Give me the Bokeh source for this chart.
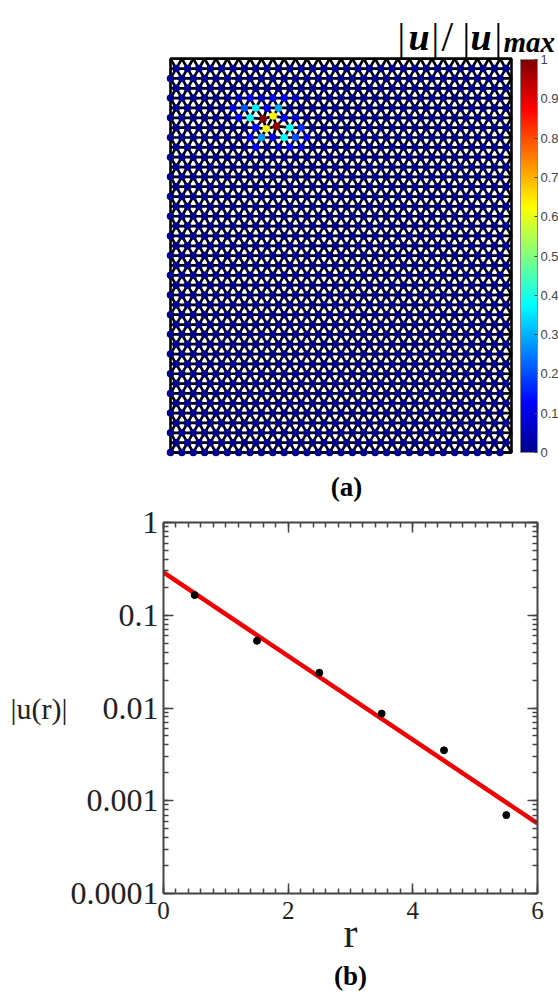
from bokeh.plotting import figure
from bokeh.layouts import column
from bokeh.embed import file_html
from bokeh.resources import INLINE
from bokeh.models import (Range1d, Label, ColorBar, LinearColorMapper, FixedTicker, LinearAxis,
                          LogAxis, LogTicker, BasicTicker, CustomJSTickFormatter, ColumnDataSource, Title)
import numpy as np

# ---------- data ----------
N_COLS = 30
N_ROWS = 40
# excited nodes: column, row (from bottom), |u|/|u|max, shift x, shift y (lattice units)
exc_i = [8, 9, 9, 8, 7, 7, 9, 10, 10, 8, 6, 6, 8, 7, 9, 11, 11, 10, 7, 9, 8, 6, 5, 10, 7, 10, 11, 9, 7, 12, 11, 11]
exc_j = [34, 33, 34, 33, 34, 35, 35, 33, 32, 32, 35, 34, 35, 33, 32, 32, 33, 34, 36, 36, 36, 36, 35, 36, 31, 31, 31, 31, 32, 32, 34, 36]
exc_v = [1.0, 0.98, 0.63, 0.63, 0.37, 0.36, 0.29, 0.38, 0.37, 0.27, 0.21, 0.13, 0.11, 0.13, 0.11, 0.2, 0.17, 0.11, 0.12, 0.11, 0.06, 0.07, 0.1, 0.11, 0.13, 0.13, 0.08, 0.06, 0.13, 0.1, 0.08, 0.07]
exc_dx = [0.15, -0.18, 0.03, -0.08] + [0.0] * 28
exc_dy = [-0.1, 0.13, 0.15, -0.1] + [0.0] * 28
r_vals = [0.5, 1.5, 2.5, 3.5, 4.5, 5.5]
u_vals = [0.165, 0.053, 0.024, 0.0087, 0.0035, 0.0007]
fit_r = [0, 6]
fit_u = [0.29, 0.00057]
cbar_ticks = [0, .1, .2, .3, .4, .5, .6, .7, .8, .9, 1]
jet_stops = [(0, (0, 0, 143)), (.125, (0, 0, 255)), (.375, (0, 255, 255)), (.625, (255, 255, 0)), (.875, (255, 0, 0)), (1, (128, 0, 0))]

# ---------- jet palette ----------
ts = [s[0] for s in jet_stops]
cols = np.array([s[1] for s in jet_stops], float)
grid = np.linspace(0, 1, 256)
palette = ["#%02x%02x%02x" % tuple(int(round(np.interp(t, ts, cols[:, k]))) for k in range(3)) for t in grid]
mapper = LinearColorMapper(palette=palette, low=0, high=1)

# ---------- lattice ----------
H = np.sqrt(3) / 2
shift = {(i, j): (a, b) for i, j, a, b in zip(exc_i, exc_j, exc_dx, exc_dy)}
value_at = {(i, j): v for i, j, v in zip(exc_i, exc_j, exc_v)}
def pos(i, j):
    a, b = shift.get((i, j), (0, 0))
    return i + 0.5 * (j % 2) + a, j * H + b
W, T = float(N_COLS), N_ROWS * H
def clip(x0, y0, x1, y1):
    t0, t1 = 0.0, 1.0
    dx, dy = x1 - x0, y1 - y0
    for p, q in ((-dx, x0), (dx, W - x0), (-dy, y0), (dy, T - y0)):
        if p == 0:
            if q < 0:
                return None
        else:
            r = q / p
            if p < 0:
                t0 = max(t0, r)
            else:
                t1 = min(t1, r)
    if t1 - t0 <= 1e-9:
        return None
    return x0 + t0 * dx, y0 + t0 * dy, x0 + t1 * dx, y0 + t1 * dy
sx0, sy0, sx1, sy1 = [], [], [], []
for j in range(0, N_ROWS + 1):
    for i in range(-1, N_COLS + 1):
        x, y = pos(i, j)
        odd = j % 2
        targets = [(i + 1, j)]
        if j < N_ROWS:
            targets += [(i + odd, j + 1), (i - 1 + odd, j + 1)]
        for ti, tj in targets:
            c = clip(x, y, *pos(ti, tj))
            if c:
                sx0.append(c[0]); sy0.append(c[1]); sx1.append(c[2]); sy1.append(c[3])
nx, ny, nv = [], [], []
for j in range(N_ROWS):
    for i in range(N_COLS):
        x, y = pos(i, j)
        nx.append(x); ny.append(y); nv.append(value_at.get((i, j), 0.0))

PX = 341 / 30.0
BOX_L, BOX_B = 170, 452
TOP_H = 505
WIDTH = 558
p1 = figure(width=WIDTH, height=TOP_H, output_backend="svg", toolbar_location=None,
            x_range=Range1d(-BOX_L / PX, (WIDTH - BOX_L) / PX),
            y_range=Range1d((BOX_B - TOP_H) / PX, BOX_B / PX),
            x_axis_location=None, y_axis_location=None, frame_align=False,
            min_border_left=0, min_border_right=0, min_border_top=0, min_border_bottom=0)
p1.grid.visible = False
p1.outline_line_color = None
p1.segment(sx0, sy0, sx1, sy1, line_color="black", line_width=2.7)
p1.line([0, W, W, 0, 0], [0, 0, T, T, 0], line_color="black", line_width=2.6)
src = ColumnDataSource(dict(x=nx, y=ny, v=nv))
p1.scatter("x", "y", source=src, size=7.5, line_width=0, fill_color={"field": "v", "transform": mapper})

cb = ColorBar(color_mapper=mapper, ticker=FixedTicker(ticks=cbar_ticks), width=17, height=393,
              location=(520, TOP_H - 452), margin=0, padding=0,
              major_tick_in=3, major_tick_line_color="#444444", major_tick_line_width=1, minor_tick_line_color=None,
              bar_line_color="#888888", bar_line_width=1, label_standoff=0,
              major_label_text_font_size="0px", major_label_text_color=None)
p1.add_layout(cb)

def txt(s, x, y, size, style="normal", align="left", base="alphabetic", font="Liberation Serif", color="black"):
    p1.add_layout(Label(x=(x - BOX_L) / PX, y=(BOX_B - y) / PX, text=s,
                        text_font=font, text_font_size=size, text_font_style=style, text_color=color,
                        text_align=align, text_baseline=base))
for t in cbar_ticks:
    # value 0 sits at the bar's foot, value 1 at its head
    txt("%g" % t, 540, BOX_B - 393 * t, "13px", base="middle", font="Liberation Sans", color="#444444")
for s, x, st, fs in [("|", 397, "normal", "38px"), ("u", 408, "bold italic", "38px"), ("|", 431, "normal", "38px"),
                     ("/", 441, "normal", "42px"), ("|", 462, "normal", "38px"), ("u", 470, "bold italic", "38px"),
                     ("|", 494, "normal", "38px")]:
    txt(s, x, 36, fs, style=st)
txt("max", 503, 41, "29px", style="bold italic")
txt("(a)", 346, 486, "27px", style="bold", align="center", base="middle")

# ---------- decay plot ----------
p2 = figure(width=WIDTH, height=992 - TOP_H, output_backend="svg", toolbar_location=None, y_axis_type="log",
            x_range=Range1d(0, 6), y_range=Range1d(0.0001, 1), frame_align=False,
            min_border_left=163, min_border_right=21, min_border_top=522 - TOP_H, min_border_bottom=99)
p2.grid.visible = False
p2.outline_line_color = None
TICK = "#444444"
def style(ax):
    ax.axis_line_color = TICK
    ax.axis_line_width = 2
    ax.major_tick_in = 10
    ax.major_tick_out = 0
    ax.minor_tick_in = 5
    ax.minor_tick_out = 0
    ax.major_tick_line_color = TICK
    ax.minor_tick_line_color = TICK
    ax.major_tick_line_width = 1.5
    ax.minor_tick_line_width = 1.5
fmt = CustomJSTickFormatter(code="return String(parseFloat(tick.toPrecision(3)))")
for ax in p2.xaxis:
    style(ax)
    ax.ticker = BasicTicker(desired_num_ticks=4, num_minor_ticks=10)
    ax.major_label_text_font = "Liberation Serif"
    ax.major_label_text_font_size = "25px"
    ax.major_label_text_color = "#222222"
    ax.major_label_standoff = 8
    ax.axis_label = "r"
    ax.axis_label_text_font = "Liberation Serif"
    ax.axis_label_text_font_size = "42px"
    ax.axis_label_text_font_style = "normal"
    ax.axis_label_text_color = "#222222"
    ax.axis_label_standoff = -12
for ax in p2.yaxis:
    style(ax)
    ax.ticker = LogTicker(num_minor_ticks=10)
    ax.formatter = fmt
    ax.major_label_text_font = "Liberation Serif"
    ax.major_label_text_font_size = "32px"
    ax.major_label_text_color = "#222222"
    ax.major_label_standoff = 5
    ax.axis_label = "|u(r)|"
    ax.axis_label_orientation = "horizontal"
    ax.axis_label_text_font = "Liberation Serif"
    ax.axis_label_text_font_size = "30px"
    ax.axis_label_text_font_style = "normal"
    ax.axis_label_text_color = "#222222"
    ax.axis_label_standoff = 0
top = LinearAxis(ticker=BasicTicker(desired_num_ticks=4, num_minor_ticks=10), major_label_text_color=None, major_label_text_font_size="0px")
style(top)
p2.add_layout(top, "above")
right = LogAxis(ticker=LogTicker(num_minor_ticks=10), major_label_text_color=None, major_label_text_font_size="0px")
style(right)
p2.add_layout(right, "right")

p2.line(fit_r, fit_u, line_color="#f00000", line_width=4.5)
p2.scatter(r_vals, u_vals, size=7, fill_color="black", line_color="black")
p2.add_layout(Title(text="(b)", align="center", text_font="Liberation Serif", text_font_size="27px",
                    text_font_style="bold", text_color="black", standoff=0), "below")

page = column(p1, p2, spacing=0)
open("out.html", "w").write(file_html(page, INLINE))
